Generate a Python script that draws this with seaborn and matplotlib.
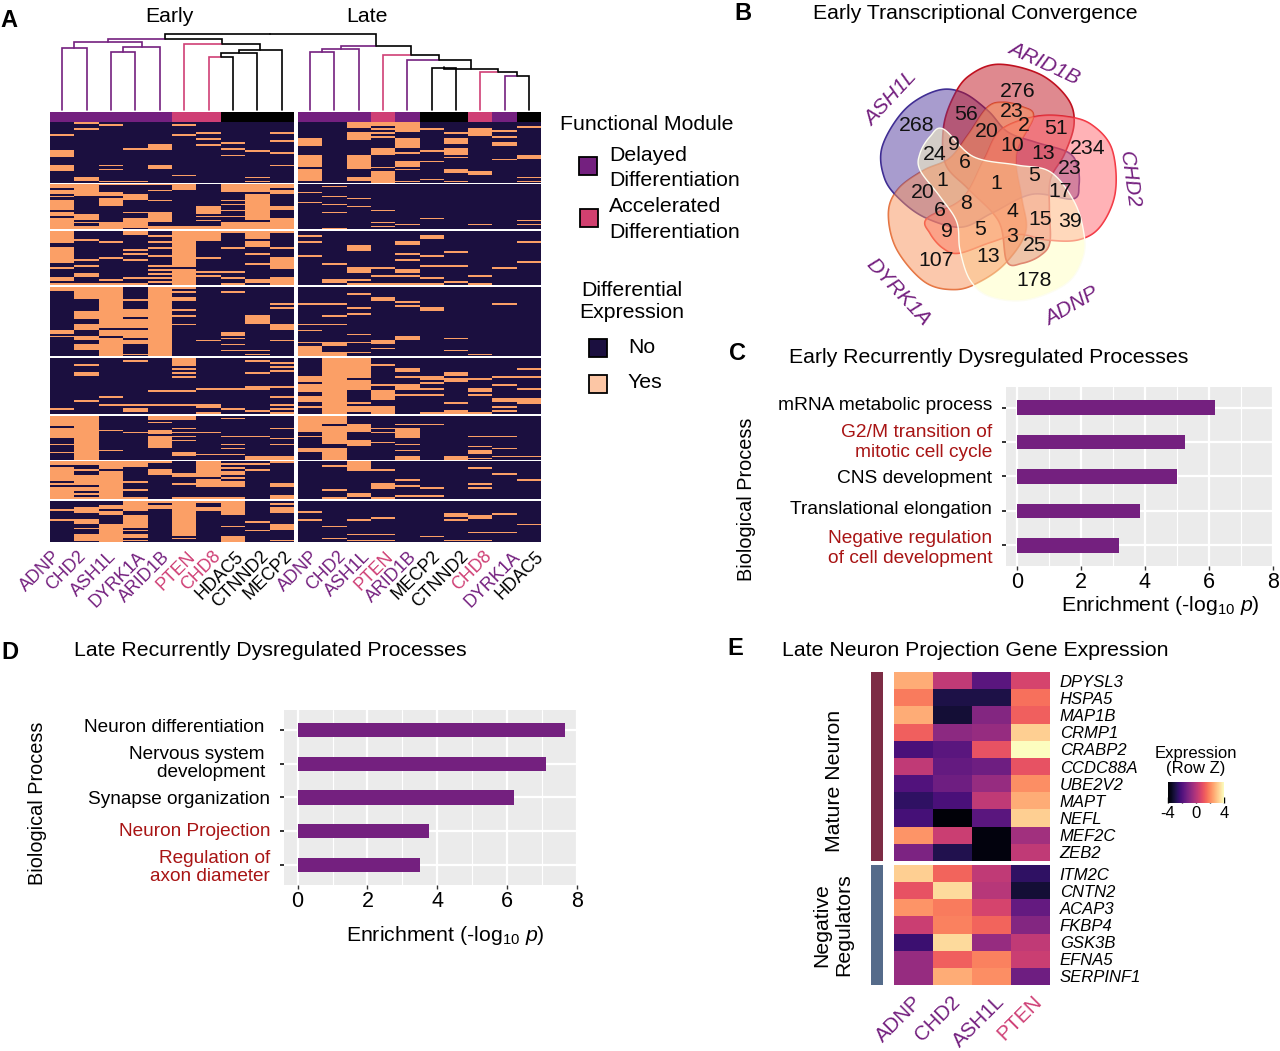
"""Multi-panel figure: DE heatmap, Venn, enrichment bars, expression heatmap"""

import matplotlib
matplotlib.use("Agg")
import matplotlib.pyplot as plt
import numpy as np
import pandas as pd
import seaborn as sns
from matplotlib.colors import ListedColormap
from matplotlib.patches import Polygon, Rectangle
from matplotlib.transforms import ScaledTranslation

W, H = 1280, 1051

PURPLE = "#74207f"
PINK = "#cf3f75"
DARK_RED = "#a81414"
NAVY = "#1b0f3f"
PEACH = "#fb9f66"

# ---- panel A data ----
early_genes = ["ADNP", "CHD2", "ASH1L", "DYRK1A", "ARID1B", "PTEN", "CHD8", "HDAC5", "CTNND2", "MECP2"]
late_genes = ["ADNP", "CHD2", "ASH1L", "PTEN", "ARID1B", "MECP2", "CTNND2", "CHD8", "DYRK1A", "HDAC5"]
# 0 delayed, 1 accelerated, 2 none
early_modules = [0, 0, 0, 0, 0, 1, 1, 2, 2, 2]
late_modules = [0, 0, 0, 1, 0, 2, 2, 1, 0, 2]
block_rows = [30, 23, 27, 34, 28, 22, 19, 20]

# one list per column: (first row, number of rows) of each "Yes" run
block1 = [
    [(6, 1), (14, 1), (15, 2), (21, 3)], [(0, 1), (3, 1), (27, 2)], [(1, 1), (21, 1), (23, 1), (29, 1)],
    [(13, 1), (29, 1)], [(11, 3), (21, 2)], [(1, 1), (6, 1), (26, 1)], [(5, 1), (8, 1), (11, 1)],
    [(10, 1), (13, 1), (16, 1)], [(14, 1), (27, 1), (29, 1)], [(5, 1), (9, 1), (15, 1), (21, 1)],
    [(8, 3), (11, 1), (16, 6), (23, 6)], [], [(0, 3), (5, 4), (16, 7), (27, 2)],
    [(0, 2), (3, 1), (5, 1), (7, 1), (13, 3), (22, 1), (24, 6)],
    [(0, 2), (2, 3), (8, 5), (15, 1), (19, 3), (23, 1), (29, 1)], [(3, 1), (14, 1), (19, 1), (28, 1)],
    [(5, 1), (8, 3), (13, 3), (17, 1), (23, 2), (29, 1)], [(3, 4), (24, 2)], [(4, 1), (7, 1), (10, 2), (18, 1)],
    [(2, 1), (16, 2), (27, 1), (29, 1)],
]
block2 = [
    [(0, 2), (3, 2), (6, 1), (8, 2), (10, 3), (14, 2), (17, 6)], [(0, 6), (15, 3), (19, 1), (21, 2)],
    [(0, 1), (4, 2), (7, 4), (19, 4)], [(0, 1), (5, 3), (14, 1), (17, 5)],
    [(0, 1), (3, 1), (8, 1), (14, 5), (21, 2)], [(0, 3), (21, 2)], [(11, 4), (16, 1), (18, 1), (21, 2)],
    [(0, 4), (8, 1), (10, 1), (13, 1), (16, 1), (19, 4)], [(0, 4), (5, 13), (19, 4)],
    [(0, 2), (3, 2), (11, 2), (17, 6)],
    [(4, 1), (9, 1)], [(1, 1), (6, 1), (10, 1), (14, 1), (22, 1)], [(7, 1), (11, 1)], [(13, 1), (19, 1), (21, 1)],
    [(20, 1)], [(17, 1)], [], [(20, 1)], [], [(18, 1), (20, 1)],
]
block3 = [
    [(0, 6), (8, 8), (18, 1), (23, 2), (26, 1)], [(4, 1), (14, 1), (17, 1), (21, 2), (26, 1)],
    [(5, 1), (13, 1), (24, 1), (26, 1)], [(0, 2), (9, 1), (11, 1), (14, 1), (23, 1), (26, 1)],
    [(2, 1), (5, 1), (8, 1), (12, 1), (17, 1), (19, 1), (21, 1), (23, 1), (25, 1)], [(0, 18), (19, 8)],
    [(0, 5), (13, 1), (20, 1), (22, 1)], [(0, 1), (8, 1), (20, 1), (23, 1), (26, 1)],
    [(0, 4), (5, 3), (11, 1), (16, 1), (24, 2)], [(0, 1), (8, 1), (13, 6), (23, 4)],
    [(2, 1), (5, 1), (12, 1)], [(16, 1), (24, 2)], [(7, 3), (18, 3), (24, 1), (26, 1)], [(18, 1), (22, 1), (26, 1)],
    [(5, 2), (11, 1), (14, 1), (19, 2), (22, 1), (26, 1)], [(2, 2), (12, 1), (17, 1), (23, 1), (26, 1)],
    [(10, 1), (17, 1), (25, 1)], [(22, 1), (26, 1)], [(18, 1)], [(5, 1), (15, 1)],
]
block4 = [
    [(0, 2), (21, 2), (24, 1)], [(0, 6), (12, 4), (18, 3), (24, 2), (28, 3)], [(0, 20), (21, 3), (25, 9)],
    [(6, 1), (11, 4), (16, 4), (21, 4), (26, 2), (33, 1)], [(0, 34)],
    [(0, 1), (2, 1), (5, 2), (11, 1), (14, 1), (18, 1)], [(26, 1)], [(2, 1), (22, 2), (25, 1), (28, 1), (31, 1)],
    [(14, 4), (31, 1), (33, 1)], [(8, 1), (10, 1), (18, 3), (26, 1)],
    [(8, 1), (18, 1), (21, 1), (27, 1), (29, 5)], [(8, 1), (14, 1), (18, 1), (27, 2), (32, 2)],
    [(3, 1), (10, 1), (13, 1), (23, 1), (27, 1), (32, 1)], [(5, 1), (6, 1), (26, 2), (30, 1)],
    [(7, 1), (9, 1), (24, 2)], [(10, 2)], [(25, 1), (31, 1)], [(33, 1)], [(8, 1)], [],
]
block5 = [
    [(25, 1)], [(3, 1), (7, 2), (21, 1)], [(19, 1), (23, 1)], [(1, 1), (23, 1), (25, 2)], [(16, 1), (23, 1)],
    [(0, 4), (5, 1), (7, 1), (9, 1), (16, 1), (23, 1)], [(15, 1), (23, 2), (27, 1)], [(15, 1), (25, 1)],
    [(1, 1), (7, 1), (14, 2), (26, 1)], [(2, 1), (4, 1), (6, 1), (14, 1), (19, 1), (23, 1), (25, 1), (27, 1)],
    [(9, 3), (13, 4), (19, 3), (24, 1)], [(0, 28)], [(0, 10), (11, 5), (22, 1), (24, 3)],
    [(3, 1), (13, 1), (16, 5), (24, 4)], [(5, 1), (6, 1), (9, 1), (13, 3), (18, 1)],
    [(9, 2), (12, 1), (15, 1), (18, 1), (27, 1)], [(7, 2), (10, 2), (22, 1), (26, 2)],
    [(10, 1), (15, 2), (18, 1), (27, 1)], [(9, 1), (13, 1), (20, 2), (24, 1), (26, 1)], [(5, 1), (9, 1), (15, 1), (20, 3)],
]
block6 = [
    [(0, 5), (6, 5), (14, 1), (18, 1)], [(0, 22)], [(7, 1), (17, 1)], [(8, 1)], [(0, 2), (3, 1), (7, 2), (10, 6)],
    [(0, 2), (6, 1), (8, 1), (10, 1), (12, 1), (18, 2)], [(8, 1), (19, 1)], [(1, 1), (10, 1), (14, 1), (16, 1), (19, 1)],
    [(10, 1), (20, 2)], [(6, 1), (11, 1), (14, 1), (20, 2)],
    [(0, 8), (10, 1), (16, 2)], [(0, 4), (5, 9), (16, 6)], [(4, 4), (12, 3)], [(6, 1), (8, 1), (13, 1)],
    [(4, 1), (6, 5), (14, 1), (17, 1), (20, 2)], [(4, 1)], [(20, 2)], [(10, 1), (15, 1), (17, 2), (21, 1)],
    [(10, 1), (16, 1), (20, 1)], [(20, 1)],
]
block7 = [
    [(0, 2), (3, 7), (11, 1), (13, 6)], [(0, 2), (4, 1), (7, 5), (13, 2), (16, 1), (18, 1)], [(0, 4), (5, 14)],
    [(0, 3), (10, 1), (14, 1), (18, 1)], [(0, 1), (4, 3)], [(6, 2), (11, 1), (18, 1)], [(0, 8), (9, 4), (18, 1)],
    [(1, 1), (3, 1), (5, 2), (8, 1), (10, 3), (18, 1)], [(1, 1), (4, 1)], [(0, 1), (11, 2), (17, 2)],
    [], [(2, 1), (14, 1), (18, 1)], [(0, 5), (16, 2)], [(4, 1), (11, 1), (12, 2), (18, 1)],
    [(9, 1), (12, 1), (17, 1)], [(13, 1), (17, 1)], [], [(3, 1), (11, 1), (13, 1)], [(6, 1)], [(9, 1)],
]
block8 = [
    [(4, 1), (9, 1)], [(3, 3), (9, 2), (13, 1), (16, 3), (19, 1)], [(2, 2), (5, 2), (11, 9)],
    [(0, 5), (7, 6), (14, 1), (16, 2), (19, 1)], [(0, 1), (2, 1), (3, 1)], [(0, 17), (18, 1)], [(0, 1), (3, 2)],
    [(0, 7), (12, 1), (17, 3)], [(10, 1), (14, 1)], [(1, 1), (3, 1), (4, 1), (5, 1), (11, 3), (19, 1)],
    [(5, 1), (9, 1)], [(12, 1), (18, 1)], [(9, 1), (16, 1), (19, 1)], [(8, 1), (16, 1), (19, 1)], [], [(17, 1)],
    [(6, 2), (9, 1), (19, 1)], [(7, 2), (15, 1), (19, 1)], [(6, 1), (15, 1)], [(11, 1)],
]
blocks = [block1, block2, block3, block4, block5, block6, block7, block8]

# dendrogram: (child a, child b, height, colour a, colour b); ids 0-19 leaves, 20+ earlier merges
dend_merges = [
    (0, 1, 64.3, "p", "p"), (2, 3, 60.3, "p", "p"), (21, 4, 64.7, "p", "p"), (20, 22, 69.7, "p", "p"),
    (6, 7, 55.3, "r", "k"), (24, 8, 59, "k", "k"), (25, 9, 62, "k", "k"), (5, 26, 68, "r", "k"),
    (23, 27, 72.5, "p", "k"),
    (10, 11, 60.3, "p", "p"), (29, 12, 62.7, "p", "p"), (15, 16, 43.7, "k", "k"), (18, 19, 36, "p", "k"),
    (17, 32, 40.3, "r", "k"), (31, 33, 42.7, "k", "k"), (14, 34, 52, "p", "k"), (13, 35, 57, "r", "k"),
    (30, 36, 66, "p", "k"), (28, 37, 77.7, "k", "k"),
]

# ---- panel B data ----
venn_sets = ["ASH1L", "ARID1B", "CHD2", "ADNP", "DYRK1A"]
venn_counts = [268, 276, 23, 2, 56, 20, 10, 51, 234, 13, 23, 24, 9, 6, 5, 17, 1, 1, 20, 6, 8, 4, 15, 39, 9, 5, 3, 25, 13, 107, 178]

# ---- panel C / D data ----
early_terms = ["mRNA metabolic process", "G2/M transition of\nmitotic cell cycle", "CNS development",
               "Translational elongation", "Negative regulation\nof cell development"]
early_enrich = [6.2, 5.25, 5.0, 3.85, 3.2]
early_highlight = [False, True, False, False, True]
late_terms = ["Neuron differentiation ", "Nervous system \ndevelopment ", "Synapse organization",
              "Neuron Projection", "Regulation of\naxon diameter"]
late_enrich = [7.65, 7.1, 6.2, 3.75, 3.5]
late_highlight = [False, False, False, True, True]

# ---- panel E data ----
expr_samples = ["ADNP", "CHD2", "ASH1L", "PTEN"]
mature_genes = ["DPYSL3", "HSPA5", "MAP1B", "CRMP1", "CRABP2", "CCDC88A", "UBE2V2", "MAPT", "NEFL", "MEF2C", "ZEB2"]
mature_z = [
    [2.6, 0.2, -1.8, 0.6], [1.8, -3.0, -3.0, 1.6], [2.6, -3.2, -1.0, 1.3], [1.3, -0.8, -0.6, 3.2],
    [-2.1, -1.8, 1.0, 4.0], [0.2, -1.6, -1.4, 1.0], [-2.0, -1.4, -0.6, 2.1], [-2.6, -2.1, 0.2, 2.6],
    [-2.2, -3.9, -1.8, 3.2], [2.2, 0.4, -3.8, -0.4], [-1.1, -2.9, -3.8, 0.2],
]
negative_genes = ["ITM2C", "CNTN2", "ACAP3", "FKBP4", "GSK3B", "EFNA5", "SERPINF1"]
negative_z = [
    [3.2, 1.4, 0.2, -2.6], [1.0, 3.4, 0.0, -3.2], [2.2, 1.8, 0.6, -1.6], [0.4, 1.9, 1.4, -1.0],
    [-2.4, 3.4, -0.6, 0.2], [-0.6, 1.3, 1.9, 0.4], [-0.6, 2.6, 2.1, -1.4],
]

sns.set_theme(style="white")
plt.rcParams["font.family"] = ["Liberation Sans", "DejaVu Sans"]
plt.rcParams["mathtext.fontset"] = "custom"
plt.rcParams["mathtext.rm"] = "Liberation Sans"
plt.rcParams["mathtext.it"] = "Liberation Sans:italic"
plt.rcParams["mathtext.default"] = "regular"
plt.rcParams["text.color"] = "black"
plt.rcParams["xtick.color"] = "black"
plt.rcParams["ytick.color"] = "black"
plt.rcParams["xtick.labelcolor"] = "black"
plt.rcParams["ytick.labelcolor"] = "black"

fig = plt.figure(figsize=(W / 100, (H + 0.01) / 100), dpi=100, facecolor="white")


def px_axes(x0, y0, x1, y1, **kw):
    # axes placed by pixel box of the 1280x1051 canvas
    return fig.add_axes([x0 / W, 1 - y1 / H, (x1 - x0) / W, (y1 - y0) / H], **kw)


canvas = px_axes(0, 0, W, H, zorder=5)
canvas.set_xlim(0, W)
canvas.set_ylim(H, 0)
canvas.axis("off")
canvas.patch.set_alpha(0)


def put(x, y, s, size=15.3, **kw):
    kw.setdefault("va", "center")
    kw.setdefault("ha", "left")
    return canvas.text(x, y, s, fontsize=size, **kw)


def gene_colour(module):
    return [PURPLE, PINK, "black"][module]


# ---- panel A ----
binary_cmap = ListedColormap([NAVY, PEACH])
module_cmap = ListedColormap([PURPLE, PINK, "black"])
block_edges = [(122, 183), (184, 229.5), (231, 285.5), (287, 356), (358, 414.5), (416, 460), (461, 499.5), (501, 542)]
half_edges = [(50, 294), (298, 541)]
SUB = 4  # single-row runs come out a bit thinner than a full 2 px row

for k, (y0, y1) in enumerate(block_edges):
    mat = np.zeros((block_rows[k] * SUB, 20))
    for col, runs in enumerate(blocks[k]):
        for start, length in runs:
            stop = (start + length) * SUB - (1 if length == 1 else 0)
            mat[start * SUB:stop, col] = 1
    for h, (x0, x1) in enumerate(half_edges):
        ax = px_axes(x0, y0, x1, y1)
        sns.heatmap(mat[:, h * 10:(h + 1) * 10], ax=ax, cmap=binary_cmap, vmin=0, vmax=1, cbar=False,
                    xticklabels=False, yticklabels=False, antialiased=False, rasterized=True)

for h, modules in enumerate([early_modules, late_modules]):
    x0, x1 = half_edges[h]
    ax = px_axes(x0, 112, x1, 122)
    sns.heatmap(np.array([modules]), ax=ax, cmap=module_cmap, vmin=0, vmax=2, cbar=False,
                xticklabels=False, yticklabels=False, rasterized=True)

leaf_x = []
for h in range(2):
    x0, x1 = half_edges[h]
    step = (x1 - x0) / 10
    leaf_x += [x0 + step * (i + 0.5) for i in range(10)]

dend_colours = {"p": PURPLE, "r": PINK, "k": "black"}
nodes = [(x, 0.5) for x in leaf_x]
for a, b, height, ca, cb in dend_merges:
    xa, ha = nodes[a]
    xb, hb = nodes[b]
    mid = (xa + xb) / 2
    canvas.plot([xa, xa, mid], [111 - ha, 112 - height, 112 - height], color=dend_colours[ca], lw=1.2, solid_joinstyle="miter")
    canvas.plot([mid, xb, xb], [112 - height, 112 - height, 111 - hb], color=dend_colours[cb], lw=1.2, solid_joinstyle="miter")
    nodes.append((mid, height))

label_end = [58, 83, 114, 143, 167, 193, 218, 241, 266, 290, 316, 343, 368, 391, 414, 438, 466, 489, 518, 541]
for genes, mods, offset in [(early_genes, early_modules, 0), (late_genes, late_modules, 10)]:
    for i, (g, m) in enumerate(zip(genes, mods)):
        canvas.text(label_end[offset + i], 554, g, fontsize=12.8, color=gene_colour(m), rotation=45,
                    ha="right", va="center", rotation_mode="anchor")

put(169, 16, "Early", ha="center")
put(367, 16, "Late", ha="center")

# legends of panel A
put(560, 124, "Functional Module")
put(609, 155, "Delayed")
put(609, 180, "Differentiation")
put(609, 206, "Accelerated")
put(609, 232, "Differentiation")
put(581, 290, "Differential")
put(579, 312, "Expression")
put(628, 347, "No")
put(627, 382, "Yes")
for (x, y, c) in [(579, 157, PURPLE), (580, 209, "#d1406f"), (589, 339, NAVY), (589, 375, "#fcc6a5")]:
    canvas.add_patch(Rectangle((x, y), 18, 18, facecolor=c, edgecolor="black", lw=1.3))

# ---- panel B ----
put(813, 13, "Early Transcriptional Convergence")

# ADNP outline, the others are the same shape turned about the centre
venn_outline = np.array([
    (310, 297), (400, 380), (530, 405), (630, 425), (700, 510), (730, 600), (730, 680), (680, 760),
    (560, 810), (450, 800), (390, 750), (360, 660), (350, 575), (300, 500), (240, 420), (240, 370), (270, 320),
], dtype=float)
venn_centre = np.array([470.0, 465.0])
venn_fill = {"ADNP": "#ffffc1", "CHD2": "#ff676f", "ARID1B": "#c11521", "ASH1L": "#533b9f", "DYRK1A": "#f9935b"}
venn_edge = {"ADNP": "#fdfdf0", "CHD2": "#f0303c", "ARID1B": "#c01020", "ASH1L": "#3a2a90", "DYRK1A": "#e07040"}
venn_turn = {"ADNP": 0, "CHD2": 72, "ARID1B": 144, "ASH1L": -144, "DYRK1A": -72}


def smooth_closed(points, n=14):
    # periodic Catmull-Rom through the outline points
    out = []
    m = len(points)
    for i in range(m):
        p0, p1, p2, p3 = points[(i - 1) % m], points[i], points[(i + 1) % m], points[(i + 2) % m]
        for t in np.linspace(0, 1, n, endpoint=False):
            out.append(0.5 * (2 * p1 + (p2 - p0) * t + (2 * p0 - 5 * p1 + 4 * p2 - p3) * t ** 2
                              + (3 * p1 - p0 - 3 * p2 + p3) * t ** 3))
    return np.array(out)


def venn_xy(z):
    # zoom-box units to canvas pixels
    return np.column_stack([840 + z[:, 0] / 3, 30 + z[:, 1] / 3])


venn_shapes = {}
for name in venn_sets:
    th = np.deg2rad(venn_turn[name])
    rel = venn_outline - venn_centre
    rot = np.column_stack([rel[:, 0] * np.cos(th) + rel[:, 1] * np.sin(th),
                           -rel[:, 0] * np.sin(th) + rel[:, 1] * np.cos(th)]) + venn_centre
    venn_shapes[name] = venn_xy(smooth_closed(rot))

# outlines go under the fills so they fade inside the overlaps, only ADNP's pale one stays on top
for name in ["DYRK1A", "ASH1L", "ARID1B", "CHD2"]:
    canvas.add_patch(Polygon(venn_shapes[name], closed=True, fill=False, edgecolor=venn_edge[name], lw=1.2))
for name in venn_sets:
    canvas.add_patch(Polygon(venn_shapes[name], closed=True, facecolor=venn_fill[name], alpha=0.5, edgecolor="none"))
canvas.add_patch(Polygon(venn_shapes["ADNP"], closed=True, fill=False, edgecolor=venn_edge["ADNP"], lw=1.0))

venn_count_pos = [(230, 285), (533, 183), (515, 243), (552, 287), (378, 252), (440, 303), (517, 347), (648, 295),
                  (742, 355), (610, 370), (688, 415), (285, 372), (342, 343), (375, 398), (583, 437), (660, 483),
                  (468, 460), (308, 450), (248, 487), (300, 540), (377, 520), (518, 543), (600, 567), (690, 573),
                  (320, 605), (420, 597), (515, 620), (583, 647), (445, 678), (287, 692), (583, 750)]
for n, (zx, zy) in zip(venn_counts, venn_count_pos):
    put(840 + zx / 3, 30 + zy / 3, str(n), ha="center", color="#111111")

venn_label_pos = {"ASH1L": (891, 99, 47), "ARID1B": (1044, 63, -25), "CHD2": (1129, 180, -82),
                  "DYRK1A": (898, 292, -47), "ADNP": (1072, 307, 30)}
for name, (x, y, rot) in venn_label_pos.items():
    put(x, y, name, ha="center", color=PURPLE, rotation=rot, rotation_mode="anchor", style="italic", size=15.2)


# ---- panels C, D ----
def enrichment_panel(box, terms, values, highlight, xlim, size, spacing, lift):
    ax = px_axes(*box)
    frame = pd.DataFrame({"term": terms, "enrichment": values})
    sns.barplot(data=frame, y="term", x="enrichment", color=PURPLE, saturation=1, width=0.42, orient="h",
                linewidth=0, ax=ax)
    ax.set_facecolor("#ebebeb")
    ax.set_xlim(*xlim)
    ax.set_ylim(4.6, -0.6)
    ax.set_xticks([0, 2, 4, 6, 8])
    ax.set_xticks([1, 3, 5, 7], minor=True)
    ax.grid(True, which="major", color="white", lw=1.6)
    ax.grid(True, which="minor", axis="x", color="white", lw=0.8)
    ax.set_axisbelow(True)
    sns.despine(ax=ax, left=True, bottom=True)
    ax.set_xlabel("")
    ax.set_ylabel("")
    ax.tick_params(axis="x", which="major", length=3, width=1, labelsize=15.5, pad=1, bottom=True, color="#333333")
    ax.tick_params(axis="x", which="minor", length=0)
    ax.tick_params(axis="y", length=3, width=1.4, labelsize=size, pad=7, left=True, color="#333333")
    for lab, red, up in zip(ax.get_yticklabels(), highlight, lift):
        lab.set_color(DARK_RED if red else "black")
        lab.set_multialignment("right")
        lab.set_linespacing(spacing)
        # labels sit a few px off their bars in the original
        lab.set_transform(lab.get_transform() + ScaledTranslation(0, up / 100, fig.dpi_scale_trans))
    return ax


enrichment_panel((1006, 387, 1273, 566), early_terms, early_enrich, early_highlight, (-0.34, 8), 13.8, 1.22, [4, 3, 0, 3, 0])
enrichment_panel((284, 710, 577, 885), late_terms, late_enrich, late_highlight, (-0.39, 8), 13.7, 1.1, [5, 3, 0, 2, 0])

xlabel_text = r"Enrichment (-log$_{10}$ $\mathit{p}$)"
put(789, 357, "Early Recurrently Dysregulated Processes")
put(1160, 605, xlabel_text, ha="center")
put(746, 499, "Biological Process", ha="center", rotation=90, size=14.3)
put(74, 650, "Late Recurrently Dysregulated Processes")
put(445, 935, xlabel_text, ha="center")
put(38, 803, "Biological Process", ha="center", rotation=90, size=14.3)

# ---- panel E ----
put(782, 650, "Late Neuron Projection Gene Expression")

for box, z, genes in [((894, 672, 1050, 861), mature_z, mature_genes), ((894, 865, 1050, 985), negative_z, negative_genes)]:
    ax = px_axes(*box)
    frame = pd.DataFrame(z, index=genes, columns=expr_samples)
    sns.heatmap(frame, ax=ax, cmap="magma", vmin=-4, vmax=4, cbar=False, xticklabels=False, yticklabels=True, rasterized=True)
    ax.yaxis.tick_right()
    ax.set_ylabel("")
    ax.tick_params(axis="y", length=0, pad=7, labelsize=12, labelrotation=0)
    for lab in ax.get_yticklabels():
        lab.set_style("italic")

canvas.add_patch(Rectangle((871, 672), 12, 189, facecolor="#7d2c45", edgecolor="none"))
canvas.add_patch(Rectangle((871, 865), 12, 120, facecolor="#556b8a", edgecolor="none"))
put(835, 781, "Mature Neuron", ha="center", rotation=90)
put(833, 925, "Negative\nRegulators", ha="center", rotation=90, ma="center", linespacing=1.2)

end_x = [919, 957, 1002, 1039]
for g, x, m in zip(expr_samples, end_x, [0, 0, 0, 1]):
    canvas.text(x, 999, g, fontsize=14.7, color=gene_colour(m), rotation=45, ha="right", va="center", rotation_mode="anchor")

put(1196, 761, "Expression\n(Row Z)", size=12, ha="center", ma="center", linespacing=1.0)
cax = px_axes(1168, 782, 1224, 803)
holder = px_axes(0, 0, 1, 1)
holder.axis("off")
sns.heatmap(np.array(mature_z), ax=holder, cmap="magma", vmin=-4, vmax=4, cbar_ax=cax,
            cbar_kws={"orientation": "horizontal", "ticks": [-4, -2, 0, 2, 4]}, xticklabels=False, yticklabels=False)
cax.set_xticklabels(["-4", "", "0", "", "4"])
cax.tick_params(axis="x", length=4, width=1, direction="in", labelsize=12, pad=2, bottom=True, color="black")
holder.set_visible(False)

# panel letters
for letter, x, y in [("A", 9, 20), ("B", 743, 13), ("C", 738, 353), ("D", 10, 652), ("E", 735, 648)]:
    put(x, y, letter, size=17, weight="bold", ha="center")

fig.savefig("out.png", dpi=100, facecolor="white")
